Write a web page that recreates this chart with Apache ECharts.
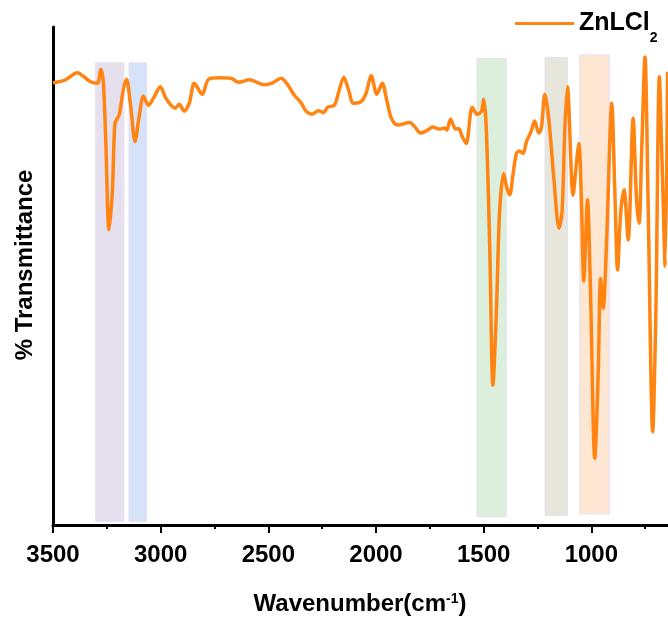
<!DOCTYPE html>
<html lang="en">
<head>
<meta charset="UTF-8" />
<title>ZnLCl2 FTIR</title>
<style>
  html, body { margin: 0; padding: 0; background: #fff; }
  #chart { width: 668px; height: 621px; }
</style>
</head>
<body>
<div id="chart"></div>
<script src="https://cdn.jsdelivr.net/npm/echarts@6/dist/echarts.min.js"></script>
<script>
  // spectrum (cm-1, % transmittance)
  const wavenumber = [
    3500, 3472, 3441, 3387, 3356, 3325, 3294, 3278, 3266, 3255,
    3240, 3224, 3212, 3193, 3174, 3159, 3139, 3119, 3100, 3080,
    3057, 3030, 3002, 2976, 2948, 2933, 2914, 2891, 2867, 2844,
    2813, 2806, 2778, 2728, 2674, 2638, 2588, 2519, 2480, 2441,
    2410, 2379, 2348, 2325, 2297, 2266, 2244, 2224, 2193, 2173,
    2150, 2127, 2105, 2069, 2046, 2022, 1996, 1971, 1950, 1929,
    1899, 1844, 1821, 1793, 1764, 1736, 1705, 1681, 1671, 1654,
    1630, 1616, 1599, 1581, 1553, 1531, 1511, 1500, 1488, 1472,
    1457, 1441, 1426, 1407, 1392, 1379, 1364, 1348, 1333, 1317,
    1301, 1281, 1263, 1244, 1232, 1216, 1198, 1174, 1150, 1136,
    1123, 1111, 1085, 1070, 1058, 1046, 1035, 1018, 1004, 984,
    968, 957, 945, 929, 905, 891, 878, 864, 848, 829,
    806, 790, 778, 767, 751, 736, 715, 700, 684, 670,
    657, 646
  ];
  const transmittance = [
    88.8, 89.0, 89.4, 90.8, 90.0, 89.0, 88.7, 91.5, 88.7, 77.3,
    59.3, 67.3, 80.7, 82.3, 87.3, 89.5, 84.0, 77.0, 82.0, 86.1,
    84.3, 86.0, 88.0, 85.7, 84.1, 83.7, 84.5, 83.1, 84.7, 88.7,
    86.7, 86.5, 89.5, 89.8, 89.7, 88.9, 89.4, 88.4, 88.8, 89.7,
    88.4, 86.3, 84.8, 83.1, 82.5, 83.2, 82.8, 83.9, 84.3, 87.0,
    89.9, 87.3, 84.7, 85.0, 86.7, 90.2, 86.5, 88.7, 85.3, 81.7,
    80.3, 80.8, 80.0, 78.7, 79.2, 79.9, 79.5, 79.7, 79.3, 81.5,
    79.5, 79.6, 77.9, 76.6, 83.9, 82.5, 83.0, 85.5, 79.7, 56.2,
    28.1, 42.8, 62.9, 70.6, 67.6, 66.3, 70.3, 74.6, 75.1, 74.6,
    77.0, 78.9, 81.1, 78.7, 79.7, 86.5, 81.7, 69.6, 59.6, 62.9,
    79.7, 88.0, 66.2, 72.3, 76.6, 65.3, 49.0, 65.3, 47.2, 13.4,
    30.5, 49.5, 43.5, 57.2, 84.7, 67.3, 51.2, 62.6, 67.3, 57.2,
    81.7, 65.3, 60.6, 74.0, 94.0, 63.9, 18.7, 43.8, 90.0, 70.6,
    51.9, 91.0
  ];

  // shaded band regions
  const bandFrom   = [3302, 3147, 1531, 1215, 1054];
  const bandTo     = [3171, 3066, 1395, 1111, 917];
  const bandTop    = [92.8, 92.8, 93.7, 93.9, 94.4];
  const bandBottom = [0.7, 0.7, 1.7, 1.9, 2.2];
  const bandColors = ['#e6e0ee', '#d5e2f7', '#dbefdc', '#e6e6dc', '#fde7d3'];

  const xTicks = { min: 500, max: 3500, step: 500 };

  const font = '"Liberation Sans", Arial, sans-serif';
  const chart = echarts.init(document.getElementById('chart'));

  const bands = bandFrom.map((f, i) => [
    { xAxis: f, yAxis: bandTop[i], itemStyle: { color: bandColors[i], borderColor: '#e6e1f0', borderWidth: 1 } },
    { xAxis: bandTo[i], yAxis: bandBottom[i] }
  ]);

  chart.setOption({
    animation: false,
    grid: { left: 53, top: 27, width: 646, bottom: 96, outerBoundsMode: 'none', containLabel: false },
    legend: {
      left: 515,
      top: 11,
      padding: 0,
      icon: 'rect',
      itemWidth: 59,
      itemHeight: 3,
      formatter: () => '{a|ZnLCl}{b|2}',
      textStyle: {
        rich: {
          a: { fontSize: 25, fontWeight: 'bold', color: '#000', fontFamily: font },
          b: { fontSize: 14, fontWeight: 'bold', color: '#000', fontFamily: font, padding: [30, 0, 0, 0] }
        }
      }
    },
    xAxis: {
      type: 'value',
      inverse: true,
      min: xTicks.min,
      max: xTicks.max,
      interval: xTicks.step,
      name: '{a|Wavenumber(cm}{s|-1}{a|)}',
      nameLocation: 'middle',
      nameGap: 67,
      nameTextStyle: {
        padding: [0, 32, 0, 0],
        rich: {
          a: { fontSize: 24, fontWeight: 'bold', color: '#000', fontFamily: font },
          s: { fontSize: 14, fontWeight: 'bold', color: '#000', fontFamily: font, padding: [0, 0, 10, 0] }
        }
      },
      axisLine: { onZero: false, lineStyle: { color: '#000', width: 3 } },
      axisTick: { length: 8, lineStyle: { color: '#000', width: 2 } },
      minorTick: { show: true, splitNumber: 2, length: 4, lineStyle: { color: '#000', width: 2 } },
      axisLabel: {
        fontSize: 24, fontWeight: 'bold', color: '#000', fontFamily: font, margin: 18,
        formatter: v => String(v)
      },
      splitLine: { show: false }
    },
    yAxis: {
      type: 'value',
      min: 0,
      max: 100,
      name: '% Transmittance',
      nameLocation: 'middle',
      nameGap: 16,
      nameTextStyle: { fontSize: 24, fontWeight: 'bold', color: '#000', fontFamily: font, padding: [0, 0, 0, 22] },
      axisLine: { show: true, lineStyle: { color: '#000', width: 3 } },
      axisTick: { show: false },
      axisLabel: { show: false },
      splitLine: { show: false }
    },
    series: [{
      name: 'ZnLCl2',
      type: 'line',
      data: wavenumber.map((w, i) => [w, transmittance[i]]),
      showSymbol: false,
      smooth: 0.3,
      lineStyle: { color: '#ff8412', width: 3.5 },
      itemStyle: { color: '#ff8412' },
      markArea: { silent: true, data: bands }
    }]
  });
</script>
</body>
</html>
